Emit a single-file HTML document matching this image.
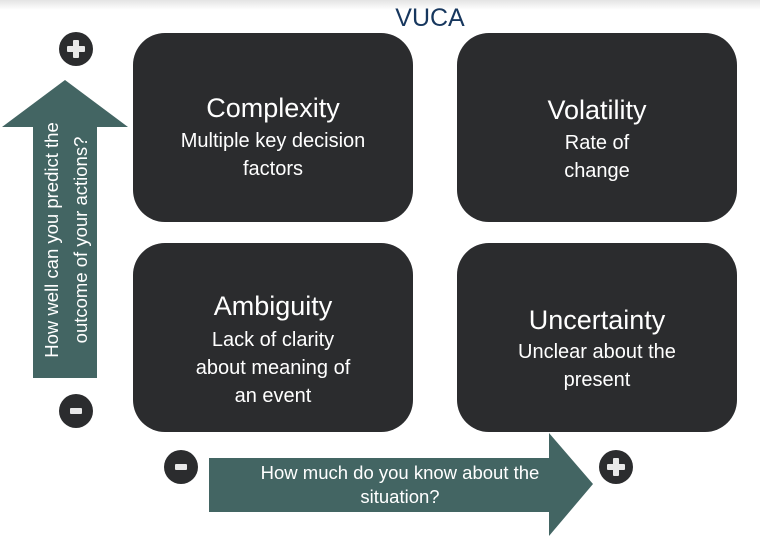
<!DOCTYPE html>
<html><head><meta charset="utf-8"><style>
html,body{margin:0;padding:0;background:#fff;}
svg{display:block;font-family:"Liberation Sans",sans-serif;}
</style></head><body>
<svg width="760" height="536" viewBox="0 0 760 536" xmlns="http://www.w3.org/2000/svg">
<defs><linearGradient id="g" x1="0" y1="0" x2="0" y2="1"><stop offset="0" stop-color="#e4e4e4"/><stop offset="1" stop-color="#fff"/></linearGradient></defs>
<rect x="0" y="0" width="760" height="10" fill="url(#g)"/>
<text x="430" y="26" text-anchor="middle" font-size="25" fill="#17375e">VUCA</text>

<g fill="#2b2c2e">
<rect x="133" y="33" width="280" height="189" rx="32"/>
<rect x="457" y="33" width="280" height="189" rx="32"/>
<rect x="133" y="243" width="280" height="189" rx="32"/>
<rect x="457" y="243" width="280" height="189" rx="32"/>
</g>
<g fill="#fff" text-anchor="middle">
<text x="273" y="117" font-size="27">Complexity</text>
<text x="273" y="147" font-size="20">Multiple key decision</text>
<text x="273" y="175" font-size="20">factors</text>
<text x="597" y="119" font-size="27">Volatility</text>
<text x="597" y="149" font-size="20">Rate of</text>
<text x="597" y="177" font-size="20">change</text>
<text x="273" y="315" font-size="27">Ambiguity</text>
<text x="273" y="346" font-size="20">Lack of clarity</text>
<text x="273" y="374" font-size="20">about  meaning of</text>
<text x="273" y="402" font-size="20">an event</text>
<text x="597" y="329" font-size="27">Uncertainty</text>
<text x="597" y="358" font-size="20">Unclear about the</text>
<text x="597" y="386" font-size="20">present</text>
</g>

<polygon points="65,80 128,127 97,127 97,378 33,378 33,127 2,127" fill="#436563"/>
<polygon points="209,458 549,458 549,433 593,484 549,536 549,512 209,512" fill="#436563"/>
<g fill="#fff" font-size="18.5" text-anchor="middle">
<text transform="translate(58,240) rotate(-90)">How well can you predict the</text>
<text transform="translate(87,240) rotate(-90)">outcome of your actions?</text>
<text x="400" y="479">How much do you know about the</text>
<text x="400" y="503">situation?</text>
</g>

<g fill="#2b2c2e">
<circle cx="76" cy="49" r="17"/><circle cx="76" cy="411" r="17"/>
<circle cx="181" cy="467" r="17"/><circle cx="616" cy="467" r="17"/>
</g>
<g fill="#e8e8e8">
<rect x="67" y="46" width="18" height="6" rx="1"/><rect x="73" y="40" width="6" height="18" rx="1"/>
<rect x="70" y="408" width="12" height="6" rx="1"/>
<rect x="175" y="464" width="12" height="6" rx="1"/>
<rect x="607" y="464" width="18" height="6" rx="1"/><rect x="613" y="458" width="6" height="18" rx="1"/>
</g>
</svg>
</body></html>
